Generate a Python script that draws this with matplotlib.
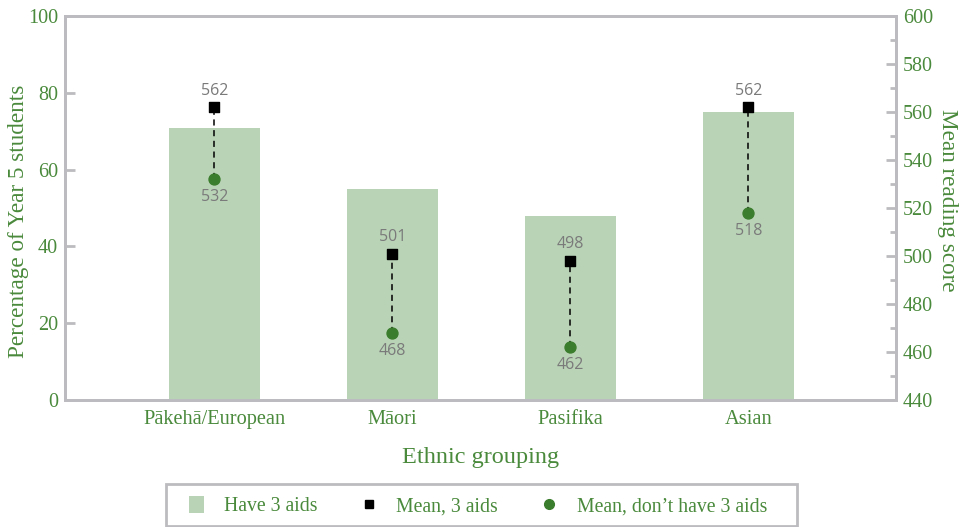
import matplotlib.pyplot as plt
from matplotlib.lines import Line2D
from matplotlib.patches import Patch, Rectangle

plt.switch_backend('Agg')
plt.rcParams['font.family'] = ['Liberation Serif', 'DejaVu Serif']

categories = ["Pākehā/European", "Māori", "Pasifika", "Asian"]
have_3_aids = [70.8, 55.0, 48.0, 75.0]
mean_3_aids = [562, 501, 498, 562]
mean_not_3_aids = [532, 468, 462, 518]

green_text = "#4a8a3c"
bar_color = "#b9d3b6"
dot_color = "#3a7d2c"
spine_color = "#bcbcc0"
label_gray = "#7a7a7a"

W, H = 962, 527
fig = plt.figure(figsize=(W / 100, H / 100), dpi=100)
ax = fig.add_axes([65 / W, 1 - 400 / H, 831 / W, 384 / H])
ax2 = ax.twinx()

x = list(range(len(categories)))
ax.bar(x, have_3_aids, width=0.51, color=bar_color, zorder=1)
ax.set_ylim(0, 100)
ax.set_xlim(-0.84, 3.83)
ax.set_yticks(range(0, 101, 20))
ax.set_xticks(x)
ax.set_xticklabels(categories)
ax.tick_params(axis='x', length=0, colors=green_text, labelsize=14.7, pad=7)
ax.tick_params(axis='y', direction='in', length=7.5, width=2, color=spine_color,
               labelcolor=green_text, labelsize=14.5, pad=5)
ax.set_xlabel("Ethnic grouping", color=green_text, fontsize=17.5, labelpad=13)
ax.set_ylabel("Percentage of Year 5 students", color=green_text, fontsize=16.7)
ax.yaxis.set_label_coords((29 - 65) / 831, (400 - 221) / 384)

ax2.set_ylim(440, 600)
ax2.set_yticks(range(440, 601, 20))
ax2.set_yticks(range(450, 600, 20), minor=True)
ax2.tick_params(axis='y', which='major', direction='in', length=7.5, width=2, color=spine_color,
                labelcolor=green_text, labelsize=14.5, pad=5)
ax2.tick_params(axis='y', which='minor', direction='in', length=4, width=2, color=spine_color)
ax2.set_ylabel("Mean reading score", color=green_text, fontsize=16.7, rotation=270, va='bottom')
ax2.yaxis.set_label_coords((937 - 65) / 831, (400 - 200) / 384)

for a in (ax, ax2):
    for s in a.spines.values():
        s.set_color(spine_color)
        s.set_linewidth(2)

for i in x:
    ax2.plot([i, i], [mean_not_3_aids[i], mean_3_aids[i]], color='black', linestyle=(0, (4, 3)),
             lw=1.1, zorder=2)
ax2.scatter(x, mean_3_aids, marker='s', s=45, color='black', zorder=3)
ax2.scatter(x, mean_not_3_aids, marker='o', s=62, color=dot_color, zorder=3)
for i in x:
    ax2.annotate(str(mean_3_aids[i]), (i, mean_3_aids[i]), xytext=(0, 6), textcoords='offset points',
                 ha='center', va='bottom', color=label_gray, fontsize=11.5,
                 family=['Open Sans', 'DejaVu Sans'])
    ax2.annotate(str(mean_not_3_aids[i]), (i, mean_not_3_aids[i]), xytext=(0, -7), textcoords='offset points',
                 ha='center', va='top', color=label_gray, fontsize=11.5,
                 family=['Open Sans', 'DejaVu Sans'])

# legend box drawn separately so its padding can match
fig.patches.append(Rectangle((166 / W, 1 - 526 / H), 631 / W, 42 / H, transform=fig.transFigure,
                             facecolor='white', edgecolor=spine_color, lw=2, zorder=0))
handles = [
    Patch(facecolor=bar_color, label="Have 3 aids"),
    Line2D([], [], marker='s', color='black', linestyle='none', markersize=6, label="Mean, 3 aids"),
    Line2D([], [], marker='o', color=dot_color, linestyle='none', markersize=7, label="Mean, don’t have 3 aids"),
]
leg = fig.legend(handles=handles, loc='center', bbox_to_anchor=(478 / W, 1 - 506 / H), ncol=3,
                 frameon=False, fontsize=14.2, handlelength=0.8, handleheight=1.0,
                 columnspacing=2.2, handletextpad=1.0, borderpad=0)
for t in leg.get_texts():
    t.set_color(green_text)

plt.savefig('out.png', dpi=100)
